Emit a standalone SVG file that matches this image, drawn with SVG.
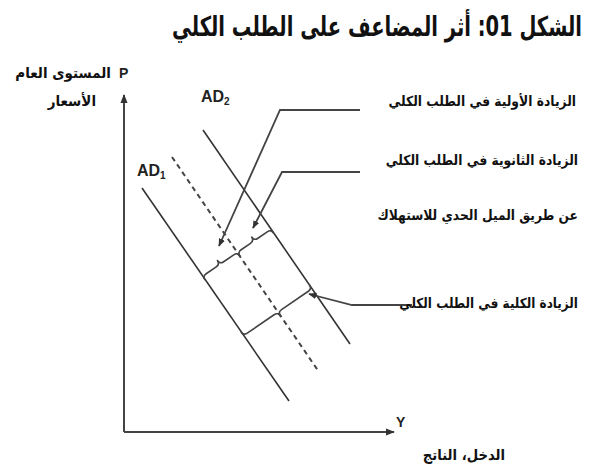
<svg xmlns="http://www.w3.org/2000/svg" width="610" height="466" viewBox="0 0 610 466">
<defs>
<style>
.ar{font-family:"DejaVu Sans","Liberation Sans",sans-serif;font-weight:bold;fill:#111;direction:rtl;unicode-bidi:embed}
.lat{font-family:"Liberation Sans",Arial,sans-serif;font-weight:bold;fill:#222}
.ln{fill:none;stroke:#333;stroke-width:1.6}
.ax{fill:none;stroke:#444;stroke-width:2}
.dash{fill:none;stroke:#444;stroke-width:2;stroke-dasharray:5 4}
.br{fill:none;stroke:#444;stroke-width:1.6;stroke-linejoin:round}
.ld{fill:none;stroke:#444;stroke-width:1.8}
</style>
<marker id="ah" viewBox="0 0 10 10" refX="9" refY="5" markerWidth="8" markerHeight="8" markerUnits="userSpaceOnUse" orient="auto">
<path d="M0,1 L10,5 L0,9 z" fill="#333"/>
</marker>
<marker id="axh" viewBox="0 0 10 10" refX="9" refY="5" markerWidth="9" markerHeight="9" markerUnits="userSpaceOnUse" orient="auto">
<path d="M0,1 L10,5 L0,9 z" fill="#333"/>
</marker>
</defs>
<rect width="610" height="466" fill="#fff"/>

<g id="title">
<text class="ar" transform="translate(377,36) scale(0.78,1.1)" font-size="25" text-anchor="middle">الشكل 01: أثر المضاعف على الطلب الكلي</text>
</g>

<g id="axes">
<path class="ax" d="M124,432 L124,95" marker-end="url(#axh)"/>
<path class="ax" d="M124,432 L394,432" marker-end="url(#axh)"/>
<text class="lat" x="119" y="78" font-size="14">P</text>
<text class="ar" transform="translate(111,78) scale(0.9,1)" font-size="15" text-anchor="start">المستوى العام</text>
<text class="ar" transform="translate(96,106) scale(0.9,1)" font-size="15" text-anchor="start">الأسعار</text>
<text class="lat" x="396" y="427" font-size="14">Y</text>
<text class="ar" transform="translate(505,460) scale(0.88,1)" font-size="15" text-anchor="start">الدخل، الناتج</text>
</g>

<g id="ad1">
<path class="ln" d="M142,188 L289,401"/>
<text class="lat" x="137" y="176" font-size="16">AD<tspan font-size="10" dy="3">1</tspan></text>
</g>
<g id="ad-intermediate">
<path class="dash" d="M172,157 L319,372"/>
</g>
<g id="ad2">
<path class="ln" d="M203,130 L350,344"/>
<text class="lat" x="201" y="102" font-size="16">AD<tspan font-size="10" dy="3">2</tspan></text>
</g>

<g id="braces">
<path class="br" d="M205,280 Q202.45,276.29 206.16,273.74 L216.24,266.84 Q219.95,264.29 217.41,260.57 Q219.95,264.29 223.66,261.74 L233.74,254.84 Q237.45,252.29 240,256"/>
<path class="br" d="M240,256 Q237.45,252.29 241.16,249.74 L250.49,243.34 Q254.2,240.79 251.66,237.07 Q254.2,240.79 257.91,238.24 L267.24,231.84 Q270.95,229.29 273.5,233"/>
<path class="br" d="M241,332 Q243.55,335.71 247.26,333.16 L274.09,314.76 Q277.8,312.21 280.34,315.93 Q277.8,312.21 281.51,309.66 L308.34,291.26 Q312.05,288.71 309.5,285"/>
</g>

<g id="connectors">
<path class="ld" d="M360,110 L280,110 L219,246" marker-end="url(#ah)"/>
<path class="ld" d="M360,172 L282,172 L253,228" marker-end="url(#ah)"/>
<path class="ld" d="M412,305 L352,305 L309,294" marker-end="url(#ah)"/>
</g>

<g id="label-initial">
<text class="ar" transform="translate(576,106) scale(0.88,1)" font-size="14" text-anchor="start">الزيادة الأولية في الطلب الكلي</text>
</g>
<g id="label-secondary">
<text class="ar" transform="translate(578,165) scale(0.88,1)" font-size="14" text-anchor="start">الزيادة الثانوية في الطلب الكلي</text>
<text class="ar" transform="translate(578,220) scale(0.88,1)" font-size="14" text-anchor="start">عن طريق الميل الحدي للاستهلاك</text>
</g>
<g id="label-total">
<text class="ar" transform="translate(578,308) scale(0.86,1)" font-size="14" text-anchor="start">الزيادة الكلية في الطلب الكلي</text>
</g>
</svg>
